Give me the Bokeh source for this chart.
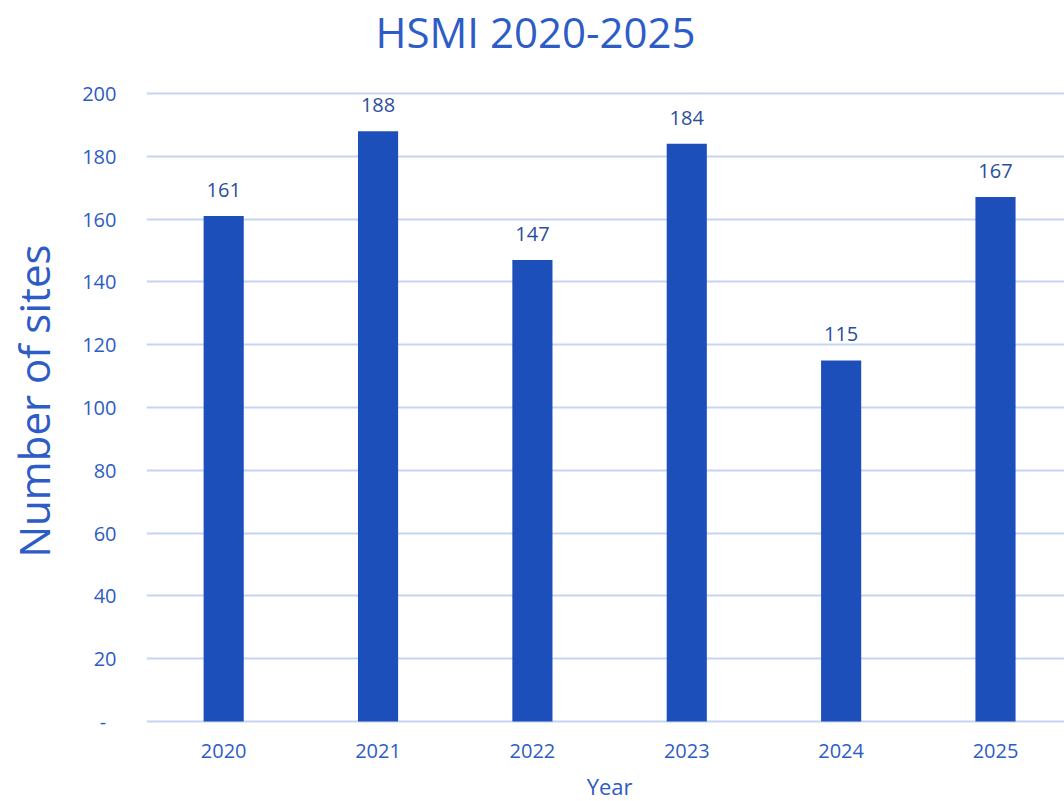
from bokeh.plotting import figure
from bokeh.models import ColumnDataSource, Range1d, FixedTicker, Label
from bokeh.core.properties import value
from bokeh.embed import file_html
from bokeh.resources import INLINE

years = ["2020", "2021", "2022", "2023", "2024", "2025"]
sites = [161, 188, 147, 184, 115, 167]
y_ticks = [0, 20, 40, 60, 80, 100, 120, 140, 160, 180, 200]
title_text = "HSMI 2020-2025"
x_title = "Year"
y_title = "Number of sites"

FONT = "Open Sans"
TICK_COLOR = "#2E5CC6"
LABEL_COLOR = "#2A4E9E"
BAR_COLOR = "#1D4FBA"
GRID_COLOR = "#C6D4F4"

xs = list(range(len(years)))
src = ColumnDataSource(dict(x=xs, top=sites, lbl=[str(v) for v in sites]))

# frame covers the full canvas height; 200 -> 93px, 0 -> 721px
p = figure(width=1064, height=801, output_backend="svg", toolbar_location=None,
           x_range=Range1d(-0.5, 5.447), y_range=Range1d(-25.48, 229.62))
p.title = None
p.min_border_left = 146
p.min_border_right = 0
p.min_border_top = 0
p.min_border_bottom = 0
p.outline_line_color = None
p.background_fill_color = "white"
p.border_fill_color = "white"

p.vbar(x="x", top="top", bottom=0, width=0.26, source=src,
       fill_color=BAR_COLOR, line_color=None)
p.text(x="x", y="top", text="lbl", source=src, y_offset=-26,
       text_align="center", text_baseline="alphabetic",
       text_font=value(FONT), text_font_size="20px", text_color=LABEL_COLOR)

# axes
p.xaxis.fixed_location = 0
p.xaxis.ticker = FixedTicker(ticks=xs)
p.xaxis.major_label_overrides = {i: y for i, y in enumerate(years)}
p.xaxis.axis_line_color = None
p.xaxis.major_tick_line_color = None
p.xaxis.minor_tick_line_color = None
p.xaxis.major_label_standoff = 17
p.xaxis.major_label_text_font = FONT
p.xaxis.major_label_text_font_size = "20px"
p.xaxis.major_label_text_color = TICK_COLOR

p.yaxis.ticker = FixedTicker(ticks=y_ticks)
p.yaxis.major_label_overrides = {0: "-\u00a0\u00a0"}
p.yaxis.axis_line_color = None
p.yaxis.major_tick_line_color = None
p.yaxis.minor_tick_line_color = None
p.yaxis.major_label_standoff = 24
p.yaxis.major_label_text_font = FONT
p.yaxis.major_label_text_font_size = "20px"
p.yaxis.major_label_text_color = TICK_COLOR
p.yaxis.axis_label = y_title
p.yaxis.axis_label_text_font = FONT
p.yaxis.axis_label_text_font_size = "42px"
p.yaxis.axis_label_text_font_style = "normal"
p.yaxis.axis_label_text_color = TICK_COLOR
p.yaxis.axis_label_standoff = 17

p.xgrid.grid_line_color = None
p.ygrid.ticker = FixedTicker(ticks=y_ticks)
p.ygrid.grid_line_color = GRID_COLOR
p.ygrid.grid_line_width = 2

# x-axis title, centred on the category span, just under the tick labels
p.add_layout(Label(x=2.5, y=-20.4, text=x_title, text_align="center",
                   text_baseline="middle", text_font=FONT,
                   text_font_size="22px", text_color=TICK_COLOR))
# chart title
p.add_layout(Label(x=2.02, y=219.6, text=title_text, text_align="center",
                   text_baseline="middle", text_font=FONT,
                   text_font_size="42px", text_color=TICK_COLOR))

open("out.html", "w").write(file_html(p, INLINE))
